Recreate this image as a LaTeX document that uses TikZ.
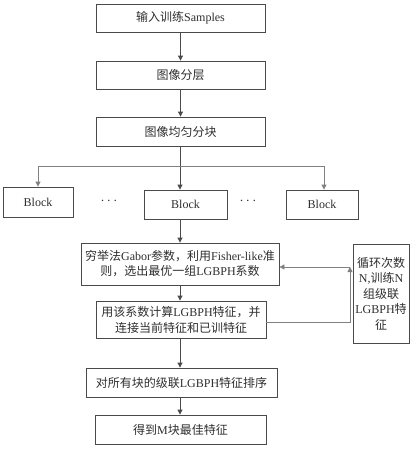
\documentclass[tikz,border=0pt]{standalone}
\usepackage{fontspec}
\setmainfont{Liberation Serif}
\newfontfamily\cjk{Noto Sans CJK SC}
\usetikzlibrary{arrows.meta}
\definecolor{txt}{HTML}{2E2E2E}
\definecolor{ln}{HTML}{4A4A4A}
\definecolor{lg}{HTML}{808080}
\begin{document}
\begin{tikzpicture}[x=1pt,y=-1pt,
  box/.style={draw=ln,line width=0.8pt,text=txt,font=\fontsize{12}{15}\selectfont,inner sep=0pt,align=center},
  arr/.style={draw=ln,line width=0.8pt,-{Triangle[length=5pt,width=5pt]}},
  garr/.style={draw=lg,line width=0.8pt,-{Triangle[length=5pt,width=5pt]}}]
\useasboundingbox (0,0) rectangle (416,450);
\node[box,minimum width=169pt,minimum height=28pt] (b1) at (180.5,18) {{\cjk 输入训练}Samples};
\node[box,minimum width=169pt,minimum height=28pt] (b2) at (180.5,75) {{\cjk 图像分层}};
\node[box,minimum width=169pt,minimum height=29pt] (b3) at (180.5,131.5) {{\cjk 图像均匀分块}};
\node[box,minimum width=70pt,minimum height=30pt] (bl) at (38,202) {Block};
\node[box,minimum width=83pt,minimum height=29pt] (bc) at (185.5,204.5) {Block};
\node[box,minimum width=72pt,minimum height=29pt] (br) at (322,204.5) {Block};
\node[text=txt,font=\fontsize{14}{15}\selectfont] (d1) at (109,201) {$\cdots$};
\node[text=txt,font=\fontsize{14}{15}\selectfont] (d2) at (248,201) {$\cdots$};
\node[box,minimum width=198pt,minimum height=42pt] (g) at (180,264) {{\cjk 穷举法}Gabor{\cjk 参数，利用}Fisher-like{\cjk 准}\\{\cjk 则，选出最优一组}LGBPH{\cjk 系数}};
\node[box,minimum width=56pt,minimum height=99pt,font=\fontsize{12}{15.5}\selectfont] (r) at (381,293.5) {{\cjk 循环次数}\\N,{\cjk 训练}N\\{\cjk 组级联}\\LGBPH{\cjk 特}\\{\cjk 征}};
\node[box,minimum width=170pt,minimum height=37pt,font=\fontsize{12}{16}\selectfont] (b4) at (181,319.5) {{\cjk 用该系数计算}LGBPH{\cjk 特征，并}\\{\cjk 连接当前特征和已训特征}};
\node[box,minimum width=191pt,minimum height=29pt] (b5) at (181.5,382.5) {{\cjk 对所有块的级联}LGBPH{\cjk 特征排序}};
\node[box,minimum width=171pt,minimum height=29pt] (b6) at (180.5,429.5) {{\cjk 得到}M{\cjk 块最佳特征}};
\coordinate (t) at (180,166);
\coordinate (tl) at (38,166);
\coordinate (tr) at (324,166);
\coordinate (c) at (350,267);
\draw[arr] (b1) -- (b2);
\draw[arr] (b2) -- (b3);
\draw[arr] (b3.south -| t) -- (t |- bc.north);
\draw[draw=lg,line width=0.8pt] (tl) -- (tr);
\draw[garr] (tl) -- (tl |- bl.north);
\draw[garr] (tr) -- (tr |- br.north);
\draw[arr] (bc.south -| t) -- (t |- g.north);
\draw[arr] (g.south -| t) -- (t |- b4.north);
\draw[arr] (b4.south -| t) -- (t |- b5.north);
\draw[arr] (b5.south -| t) -- (t |- b6.north);
\draw[garr] ([yshift=-3pt]b4.east) -| (c);
\draw[garr] (c) -- (c -| g.east);
\end{tikzpicture}
\end{document}
